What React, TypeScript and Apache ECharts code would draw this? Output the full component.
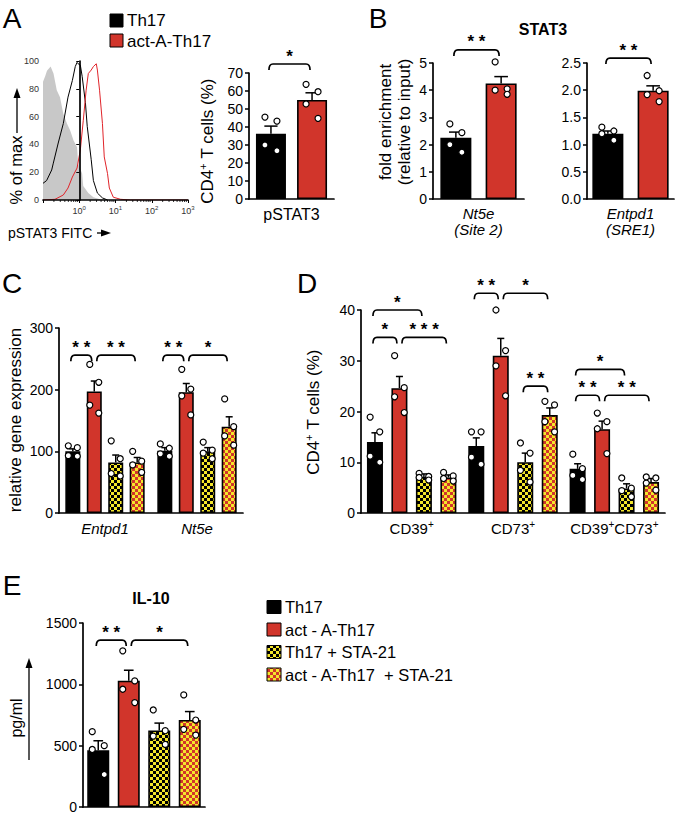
import React, { useEffect, useRef } from 'react';
import * as echarts from 'echarts';

const FONT = '"Liberation Sans", Arial, Helvetica, sans-serif';
const INK = '#000000';
const RED = '#d1352b';
const YELLOW = '#f4e62b';
const GRAY = '#c8c8c8';

// ---------- Panel A: flow histogram (x = log10 pSTAT3 FITC, y = % of max)
const histIsoX = [-1.0, -0.94, -0.89, -0.79, -0.71, -0.62, -0.53, -0.44, -0.34, -0.25, -0.16, -0.06, -0.03, 0.08, 0.11, 0.25, 0.39, 0.58, 0.86];
const histIsoY = [85, 89, 93, 96, 91, 79, 74, 62, 55, 50, 43, 38, 26, 19, 10, 5, 2, 0.5, 0];
const histTh17X = [-1.0, -0.9, -0.76, -0.72, -0.58, -0.44, -0.31, -0.19, -0.11, -0.06, -0.03, 0.03, 0.08, 0.17, 0.22, 0.33, 0.39, 0.5, 0.64, 0.78];
const histTh17Y = [12, 14, 21.6, 26, 41, 55, 74, 86, 96, 99, 98, 97, 89, 70, 53, 29, 14, 5, 1.5, 0];
const histActX = [-1.0, -0.67, -0.44, -0.31, -0.19, -0.06, 0.03, 0.11, 0.19, 0.25, 0.33, 0.39, 0.47, 0.5, 0.56, 0.64, 0.69, 0.78, 0.83, 0.94, 1.14, 1.42, 3.0];
const histActY = [0, 0.5, 3.6, 8.6, 16.5, 23, 36, 57, 79, 91, 93.5, 96, 98, 93.5, 79, 55, 31, 19, 8.6, 2, 0.5, 0, 0];

// ---------- Panel A: bars
const aCats = ['pSTAT3'];
const aTh17Mean = [36.3];
const aTh17Sem = [4.2];
const aTh17Pts = [[45.5, 43.3, 30, 26.8]];
const aActMean = [55];
const aActSem = [4];
const aActPts = [[63.7, 59.6, 52.8, 44.8]];

// ---------- Panel B: STAT3 ChIP
const b1Cats = ['Nt5e\n(Site 2)'];
const b1Th17Mean = [2.25];
const b1Th17Sem = [0.21];
const b1Th17Pts = [[2.76, 2.44, 2.0, 1.72]];
const b1ActMean = [4.25];
const b1ActSem = [0.25];
const b1ActPts = [[5.04, 4.05, 4.0, 3.85]];

const b2Cats = ['Entpd1\n(SRE1)'];
const b2Th17Mean = [1.2];
const b2Th17Sem = [0.05];
const b2Th17Pts = [[1.32, 1.25, 1.2, 1.08]];
const b2ActMean = [1.99];
const b2ActSem = [0.09];
const b2ActPts = [[2.27, 1.99, 1.92, 1.79]];

// ---------- Panel C: relative gene expression
const cCats = ['Entpd1', 'Nt5e'];
const cTh17Mean = [100, 101];
const cTh17Sem = [4, 5];
const cTh17Pts = [[109, 106, 93, 92], [112, 105, 96, 92]];
const cActMean = [197, 196];
const cActSem = [17, 14];
const cActPts = [[241, 212, 175, 162], [233, 201, 190, 159]];
const cTh17StaMean = [82, 100];
const cTh17StaSem = [12, 6];
const cTh17StaPts = [[117, 88, 64, 60], [115, 102, 97, 88]];
const cActStaMean = [82, 140];
const cActStaSem = [8, 16];
const cActStaPts = [[100, 84, 78, 66], [185, 140, 125, 110]];

// ---------- Panel D: CD4+ T cells (%)
const dCats = ['CD39+', 'CD73+', 'CD39+CD73+'];
const dTh17Mean = [14.0, 13.2, 8.7];
const dTh17Sem = [1.8, 1.6, 1.0];
const dTh17Pts = [[18.9, 16, 11.2, 10], [16, 16, 11, 9.6], [11.6, 8.75, 7.4, 6.6]];
const dActMean = [24.6, 31.0, 16.5];
const dActSem = [2.3, 3.4, 1.6];
const dActPts = [[31, 24.7, 22.9, 19.8], [40, 32, 29, 23.1], [19.7, 18, 16.6, 11.7]];
const dTh17StaMean = [7.1, 10.0, 4.85];
const dTh17StaSem = [0.6, 1.8, 0.9];
const dTh17StaPts = [[7.8, 7.2, 7.0, 6.5], [13.8, 11.8, 8.4, 6.1], [6.9, 4.9, 4.4, 3.2]];
const dActStaMean = [7.0, 19.3, 6.1];
const dActStaSem = [0.5, 1.4, 0.7];
const dActStaPts = [[8.0, 7.3, 6.8, 6.3], [22, 21.3, 18, 16], [7.1, 6.9, 5.9, 4.5]];

// ---------- Panel E: IL-10
const eCats = ['Th17', 'act - A-Th17', 'Th17 + STA-21', 'act - A-Th17  + STA-21'];
const eMean = [462, 1030, 624, 710];
const eSem = [78, 85, 60, 68];
const ePts = [[614, 500, 469, 265], [1273, 1028, 960, 851], [791, 622, 578, 510], [914, 709, 633, 586]];

// ---------- significance annotations: [category, bar] -> [category, bar] at value y
type Br = { a: [number, number]; b: [number, number]; y: number; label: string };
const aSig: Br[] = [{ a: [0, 0], b: [0, 1], y: 75, label: '*' }];
const b1Sig: Br[] = [{ a: [0, 0], b: [0, 1], y: 5.48, label: '* *' }];
const b2Sig: Br[] = [{ a: [0, 0], b: [0, 1], y: 2.59, label: '* *' }];
const cSig: Br[] = [
  { a: [0, 0], b: [0, 1], y: 256, label: '* *' },
  { a: [0, 1], b: [0, 3], y: 256, label: '* *' },
  { a: [1, 0], b: [1, 1], y: 256, label: '* *' },
  { a: [1, 1], b: [1, 3], y: 256, label: '*' },
];
const dSig: Br[] = [
  { a: [0, 0], b: [0, 2], y: 40, label: '*' },
  { a: [0, 0], b: [0, 1], y: 34.6, label: '*' },
  { a: [0, 1], b: [0, 3], y: 34.6, label: '* * *' },
  { a: [1, 0], b: [1, 1], y: 43.3, label: '* *' },
  { a: [1, 1], b: [1, 3], y: 43.3, label: '*' },
  { a: [1, 2], b: [1, 3], y: 25, label: '* *' },
  { a: [2, 0], b: [2, 2], y: 28.3, label: '*' },
  { a: [2, 0], b: [2, 1], y: 23.2, label: '* *' },
  { a: [2, 1], b: [2, 3], y: 23.2, label: '* *' },
];
const eSig: Br[] = [
  { a: [0, 0], b: [1, 0], y: 1361, label: '* *' },
  { a: [1, 0], b: [3, 0], y: 1361, label: '*' },
];

const JITTER = [-0.3, 0.3, -0.3, 0.3];

function checker(c1: string, c2: string, cell = 3) {
  const cv = document.createElement('canvas');
  cv.width = cell * 2;
  cv.height = cell * 2;
  const ctx = cv.getContext('2d') as CanvasRenderingContext2D;
  ctx.fillStyle = c2;
  ctx.fillRect(0, 0, cell * 2, cell * 2);
  ctx.fillStyle = c1;
  ctx.fillRect(0, 0, cell, cell);
  ctx.fillRect(cell, cell, cell, cell);
  return { image: cv.toDataURL(), repeat: 'repeat', imageWidth: cell * 2, imageHeight: cell * 2 };
}

function barOffset(n: number, w: number, gap: number, i: number) {
  const total = n * w + (n - 1) * w * gap;
  return -total / 2 + w / 2 + i * w * (1 + gap);
}

function barSeries(axis: number, name: string, mean: number[], fill: any, barW: number, gap: number) {
  return {
    type: 'bar', name, xAxisIndex: axis, yAxisIndex: axis, silent: true, z: 2,
    data: mean.map((v, i) => ({ value: v, itemStyle: { color: Array.isArray(fill) ? fill[i] : fill } })),
    barWidth: barW, barGap: `${gap * 100}%`,
    itemStyle: { borderColor: INK, borderWidth: 1.6 },
    emphasis: { disabled: true },
  };
}

function errorDots(axis: number, nBars: number, barW: number, gap: number, idx: number, mean: number[], sem: number[], pts: number[][]) {
  const off = barOffset(nBars, barW, gap, idx);
  return {
    type: 'custom', xAxisIndex: axis, yAxisIndex: axis, z: 3, silent: true, clip: false,
    data: mean.map((m, i) => [i, m]),
    encode: { x: 0, y: 1 },
    renderItem: (params: any, api: any) => {
      const i = params.dataIndex;
      const m = mean[i];
      const s = sem[i];
      const base = api.coord([i, m]);
      const top = api.coord([i, m + s]);
      const x = base[0] + off;
      const cap = Math.max(3.5, barW * 0.22);
      const children: any[] = [
        { type: 'line', shape: { x1: x, y1: base[1], x2: x, y2: top[1] }, style: { stroke: INK, lineWidth: 1.5 } },
        { type: 'line', shape: { x1: x - cap, y1: top[1], x2: x + cap, y2: top[1] }, style: { stroke: INK, lineWidth: 1.5 } },
      ];
      pts[i].forEach((v, k) => {
        const p = api.coord([i, v]);
        const dx = Math.max(-6, Math.min(6, JITTER[k % JITTER.length] * barW));
        children.push({ type: 'circle', shape: { cx: x + dx, cy: p[1], r: 3 }, style: { fill: '#ffffff', stroke: INK, lineWidth: 1.2 } });
      });
      return { type: 'group', children };
    },
  };
}

function brackets(axis: number, nBars: number, barW: number, gap: number, list: Br[]) {
  return {
    type: 'custom', xAxisIndex: axis, yAxisIndex: axis, z: 4, silent: true, clip: false,
    data: list.map((d) => [d.a[0], d.y]),
    encode: { x: 0, y: 1 },
    renderItem: (params: any, api: any) => {
      const d = list[params.dataIndex];
      const pa = api.coord([d.a[0], d.y]);
      const pb = api.coord([d.b[0], d.y]);
      const sharedStart = list.some((o) => o !== d && o.y === d.y && o.b[0] === d.a[0] && o.b[1] === d.a[1]);
      const sharedEnd = list.some((o) => o !== d && o.y === d.y && o.a[0] === d.b[0] && o.a[1] === d.b[1]);
      const x1 = pa[0] + barOffset(nBars, barW, gap, d.a[1]) + (sharedStart ? 2.5 : -2);
      const x2 = pb[0] + barOffset(nBars, barW, gap, d.b[1]) + (sharedEnd ? -2.5 : -2);
      const y = pa[1];
      const h = 6;
      const r = 4;
      const pathData = `M${x1} ${y + h} Q${x1} ${y} ${x1 + r} ${y} L${x2 - r} ${y} Q${x2} ${y} ${x2} ${y + h}`;
      return {
        type: 'group',
        children: [
          { type: 'path', shape: { pathData }, style: { fill: 'none', stroke: INK, lineWidth: 1.7 } },
          {
            type: 'text', x: (x1 + x2) / 2, y: y - 8,
            style: { text: d.label, fill: INK, font: `bold 17px ${FONT}`, align: 'center', verticalAlign: 'middle', textAlign: 'center', textVerticalAlign: 'middle' },
          },
        ],
      };
    },
  };
}

function txt(x: number, y: number, text: string, size: number, o: any = {}) {
  return {
    type: 'text', x, y, rotation: o.rot || 0, silent: true, z: 10,
    style: {
      text, fill: INK, font: `${o.style || 'normal'} ${o.weight || 'normal'} ${size}px ${FONT}`,
      align: o.align || 'center', verticalAlign: 'middle', textAlign: o.align || 'center', textVerticalAlign: 'middle',
      rich: o.rich,
    },
  };
}

function sq(x: number, y: number, w: number, h: number, fill: any) {
  return { type: 'rect', silent: true, z: 10, shape: { x, y, width: w, height: h }, style: { fill, stroke: INK, lineWidth: 1 } };
}

function arrowUp(x: number, yBottom: number, yTip: number) {
  return [
    { type: 'line', silent: true, z: 10, shape: { x1: x, y1: yBottom, x2: x, y2: yTip + 8 }, style: { stroke: INK, lineWidth: 1.3 } },
    { type: 'polygon', silent: true, z: 10, shape: { points: [[x, yTip], [x - 3.5, yTip + 10], [x + 3.5, yTip + 10]] }, style: { fill: INK } },
  ];
}
function arrowRight(y: number, xLeft: number, xTip: number) {
  return [
    { type: 'line', silent: true, z: 10, shape: { x1: xLeft, y1: y, x2: xTip - 8, y2: y }, style: { stroke: INK, lineWidth: 1.3 } },
    { type: 'polygon', silent: true, z: 10, shape: { points: [[xTip, y], [xTip - 10, y - 3.5], [xTip - 10, y + 3.5]] }, style: { fill: INK } },
  ];
}

const axisLineStyle = { show: true, lineStyle: { color: INK, width: 1.7 } };

function yAx(grid: number, max: number, interval: number, fmt?: any) {
  return {
    type: 'value', gridIndex: grid, min: 0, max, interval, z: 5,
    axisLine: axisLineStyle,
    axisTick: { show: true, length: 4, lineStyle: { color: INK, width: 1.5 } },
    axisLabel: { color: INK, fontSize: 14, fontFamily: FONT, margin: 6, formatter: fmt || ((v: number) => String(v)) },
    splitLine: { show: false },
  };
}

function xCat(grid: number, data: string[], label: any) {
  return {
    type: 'category', gridIndex: grid, data, z: 5,
    axisLine: axisLineStyle,
    axisTick: { show: false },
    axisLabel: { interval: 0, hideOverlap: false, ...label },
    splitLine: { show: false },
  };
}

function buildOption() {
  const YB = checker(INK, YELLOW);
  const YR = checker(RED, YELLOW);

  const grids = [
    { left: 43, top: 61, width: 145, height: 139 },
    { left: 249, top: 73, width: 85, height: 126 },
    { left: 433, top: 63, width: 91, height: 136 },
    { left: 587, top: 63, width: 87, height: 136 },
    { left: 59, top: 328, width: 184, height: 185 },
    { left: 361, top: 310, width: 304, height: 203 },
    { left: 83, top: 623, width: 122, height: 184 },
  ].map((g) => ({ ...g, containLabel: false, outerBoundsMode: 'none', show: false }));

  const supRich = (size: number) => ({
    n: { fontSize: size, fontFamily: FONT, color: INK, lineHeight: size + 3 },
    s: { fontSize: Math.round(size * 0.65), fontFamily: FONT, color: INK, verticalAlign: 'top', lineHeight: Math.round(size * 0.65) },
  });

  const xAxis = [
    {
      type: 'value', gridIndex: 0, min: -1, max: 3, interval: 1, z: 5,
      axisLine: axisLineStyle,
      axisTick: { show: true, length: 3, lineStyle: { color: INK, width: 1 } },
      axisLabel: {
        margin: 5,
        formatter: (v: number) => (v < 0 ? '' : `{b|10}{s|${Math.round(v)}}`),
        rich: {
          b: { fontSize: 9, fontFamily: FONT, color: '#333', lineHeight: 12 },
          s: { fontSize: 6, fontFamily: FONT, color: '#333', verticalAlign: 'top', lineHeight: 7 },
        },
      },
      splitLine: { show: false },
    },
    xCat(1, aCats, { color: INK, fontSize: 16, fontFamily: FONT, margin: 7 }),
    xCat(2, b1Cats, { color: INK, fontSize: 15, fontStyle: 'italic', fontFamily: FONT, margin: 6, lineHeight: 16 }),
    xCat(3, b2Cats, { color: INK, fontSize: 15, fontStyle: 'italic', fontFamily: FONT, margin: 6, lineHeight: 16 }),
    xCat(4, cCats, { color: INK, fontSize: 15, fontStyle: 'italic', fontFamily: FONT, margin: 8 }),
    xCat(5, dCats, {
      margin: 6,
      formatter: (v: string) => v.split('+').filter((p) => p).map((p) => `{n|${p}}{s|+}`).join(''),
      rich: supRich(15),
    }),
    xCat(6, eCats, { show: false }),
  ];

  const yAxis = [
    {
      type: 'value', gridIndex: 0, min: 0, max: 100, interval: 20, z: 5,
      axisLine: axisLineStyle,
      axisTick: { show: true, length: 3, lineStyle: { color: INK, width: 1 } },
      axisLabel: { color: '#333', fontSize: 9, fontFamily: FONT, margin: 4 },
      splitLine: { show: false },
    },
    yAx(1, 70, 10),
    yAx(2, 5, 1),
    yAx(3, 2.5, 0.5, (v: number) => v.toFixed(1)),
    yAx(4, 300, 100),
    yAx(5, 40, 10),
    yAx(6, 1500, 500),
  ];

  const minorTickPos: number[] = [];
  [-1, 0, 1, 2].forEach((n) => [2, 3, 4, 5, 6, 7, 8, 9].forEach((k) => minorTickPos.push(n + Math.log10(k))));

  const series: any[] = [
    {
      type: 'line', xAxisIndex: 0, yAxisIndex: 0, z: 1, silent: true, symbol: 'none',
      data: histIsoX.map((x, i) => [x, histIsoY[i]]),
      lineStyle: { width: 0, color: GRAY }, areaStyle: { color: GRAY, opacity: 1 },
    },
    {
      type: 'line', xAxisIndex: 0, yAxisIndex: 0, z: 2, silent: true, symbol: 'none',
      data: histTh17X.map((x, i) => [x, histTh17Y[i]]),
      lineStyle: { width: 1, color: INK },
    },
    {
      type: 'line', xAxisIndex: 0, yAxisIndex: 0, z: 2, silent: true, symbol: 'none',
      data: histActX.map((x, i) => [x, histActY[i]]),
      lineStyle: { width: 1, color: '#e0242a' },
    },
    {
      type: 'custom', xAxisIndex: 0, yAxisIndex: 0, z: 6, silent: true, clip: false,
      data: minorTickPos.map((v) => [v, 0]),
      encode: { x: 0, y: 1 },
      renderItem: (params: any, api: any) => {
        const p = api.coord([minorTickPos[params.dataIndex], 0]);
        return { type: 'line', shape: { x1: p[0], y1: p[1], x2: p[0], y2: p[1] + 2 }, style: { stroke: INK, lineWidth: 0.8 } };
      },
    },
  ];

  // A bars
  const aW = 30, aG = 0.37;
  series.push(barSeries(1, 'Th17', aTh17Mean, INK, aW, aG), barSeries(1, 'act-A-Th17', aActMean, RED, aW, aG));
  series.push(errorDots(1, 2, aW, aG, 0, aTh17Mean, aTh17Sem, aTh17Pts), errorDots(1, 2, aW, aG, 1, aActMean, aActSem, aActPts));
  series.push(brackets(1, 2, aW, aG, aSig));

  // B bars
  const bW = 31, bG = 0.46;
  series.push(barSeries(2, 'Th17', b1Th17Mean, INK, bW, bG), barSeries(2, 'act-A-Th17', b1ActMean, RED, bW, bG));
  series.push(errorDots(2, 2, bW, bG, 0, b1Th17Mean, b1Th17Sem, b1Th17Pts), errorDots(2, 2, bW, bG, 1, b1ActMean, b1ActSem, b1ActPts));
  series.push(brackets(2, 2, bW, bG, b1Sig));
  series.push(barSeries(3, 'Th17', b2Th17Mean, INK, bW, bG), barSeries(3, 'act-A-Th17', b2ActMean, RED, bW, bG));
  series.push(errorDots(3, 2, bW, bG, 0, b2Th17Mean, b2Th17Sem, b2Th17Pts), errorDots(3, 2, bW, bG, 1, b2ActMean, b2ActSem, b2ActPts));
  series.push(brackets(3, 2, bW, bG, b2Sig));

  // C bars
  const cW = 15, cG = 0.43;
  const cGroups = [
    [cTh17Mean, cTh17Sem, cTh17Pts, INK, 'Th17'],
    [cActMean, cActSem, cActPts, RED, 'act-A-Th17'],
    [cTh17StaMean, cTh17StaSem, cTh17StaPts, YB, 'Th17 + STA-21'],
    [cActStaMean, cActStaSem, cActStaPts, YR, 'act-A-Th17 + STA-21'],
  ] as any[];
  cGroups.forEach((g) => series.push(barSeries(4, g[4], g[0], g[3], cW, cG)));
  cGroups.forEach((g, i) => series.push(errorDots(4, 4, cW, cG, i, g[0], g[1], g[2])));
  series.push(brackets(4, 4, cW, cG, cSig));

  // D bars
  const dW = 16, dG = 0.53;
  const dGroups = [
    [dTh17Mean, dTh17Sem, dTh17Pts, INK, 'Th17'],
    [dActMean, dActSem, dActPts, RED, 'act-A-Th17'],
    [dTh17StaMean, dTh17StaSem, dTh17StaPts, YB, 'Th17 + STA-21'],
    [dActStaMean, dActStaSem, dActStaPts, YR, 'act-A-Th17 + STA-21'],
  ] as any[];
  dGroups.forEach((g) => series.push(barSeries(5, g[4], g[0], g[3], dW, dG)));
  dGroups.forEach((g, i) => series.push(errorDots(5, 4, dW, dG, i, g[0], g[1], g[2])));
  series.push(brackets(5, 4, dW, dG, dSig));

  // E bars
  const eW = 22;
  series.push(barSeries(6, 'IL-10', eMean, [INK, RED, YB, YR], eW, 0.3));
  series.push(errorDots(6, 1, eW, 0.3, 0, eMean, eSem, ePts));
  series.push(brackets(6, 1, eW, 0.3, eSig));

  const yTitleRich = {
    n: { fontSize: 17, fontFamily: FONT, color: INK, lineHeight: 20 },
    s: { fontSize: 11, fontFamily: FONT, color: INK, verticalAlign: 'top', lineHeight: 11 },
  };

  const graphic: any[] = [
    txt(12, 18, 'A', 28),
    txt(378, 18, 'B', 28),
    txt(12, 283, 'C', 28),
    txt(307, 283, 'D', 28),
    txt(12, 585, 'E', 28),
    // legend A
    sq(110, 14, 13, 13, INK),
    sq(110, 34, 13, 13, RED),
    txt(127, 20.5, 'Th17', 17, { align: 'left' }),
    txt(127, 41, 'act-A-Th17', 17, { align: 'left' }),
    // histogram titles
    txt(16, 170, '% of max', 16.5, { rot: Math.PI / 2 }),
    ...arrowUp(17, 133, 88),
    txt(8, 233, 'pSTAT3 FITC', 14, { align: 'left' }),
    ...arrowRight(233, 97, 111),
    // A bar y title
    txt(207, 141, '{n|CD4}{s|+}{n| T cells (%)}', 17, { rot: Math.PI / 2, rich: yTitleRich }),
    // B
    txt(543, 29, 'STAT3', 16, { weight: 'bold' }),
    txt(385, 122, 'fold enrichment', 17, { rot: Math.PI / 2 }),
    txt(404, 122, '(relative to input)', 17, { rot: Math.PI / 2 }),
    // C
    txt(15, 420, 'relative gene expression', 17, { rot: Math.PI / 2 }),
    // D
    txt(313, 412, '{n|CD4}{s|+}{n| T cells (%)}', 17, { rot: Math.PI / 2, rich: yTitleRich }),
    // E
    txt(151, 598, 'IL-10', 16, { weight: 'bold' }),
    txt(16, 718, 'pg/ml', 16, { rot: Math.PI / 2 }),
    ...arrowUp(29, 760, 658),
    sq(267, 600.5, 14, 13, INK),
    sq(267, 623, 14, 13, RED),
    sq(267, 645.5, 14, 13, YB),
    sq(267, 668, 14, 13, YR),
    txt(285, 607, 'Th17', 16.5, { align: 'left' }),
    txt(285, 629.5, 'act - A-Th17', 16.5, { align: 'left' }),
    txt(285, 652, 'Th17 + STA-21', 16.5, { align: 'left' }),
    txt(285, 674.5, 'act - A-Th17  + STA-21', 16.5, { align: 'left' }),
  ];

  return {
    animation: false,
    backgroundColor: '#ffffff',
    textStyle: { fontFamily: FONT },
    grid: grids,
    xAxis,
    yAxis,
    series,
    graphic,
  };
}

export default function App() {
  const ref = useRef<HTMLDivElement>(null);
  useEffect(() => {
    if (!ref.current) return;
    const chart = echarts.init(ref.current, null, { renderer: 'svg', width: 677, height: 814 });
    chart.setOption(buildOption() as any);
    return () => chart.dispose();
  }, []);
  return (
    <div
      ref={ref}
      style={{ position: 'absolute', left: 0, top: 0, width: 677, height: 814, background: '#ffffff' }}
    />
  );
}
